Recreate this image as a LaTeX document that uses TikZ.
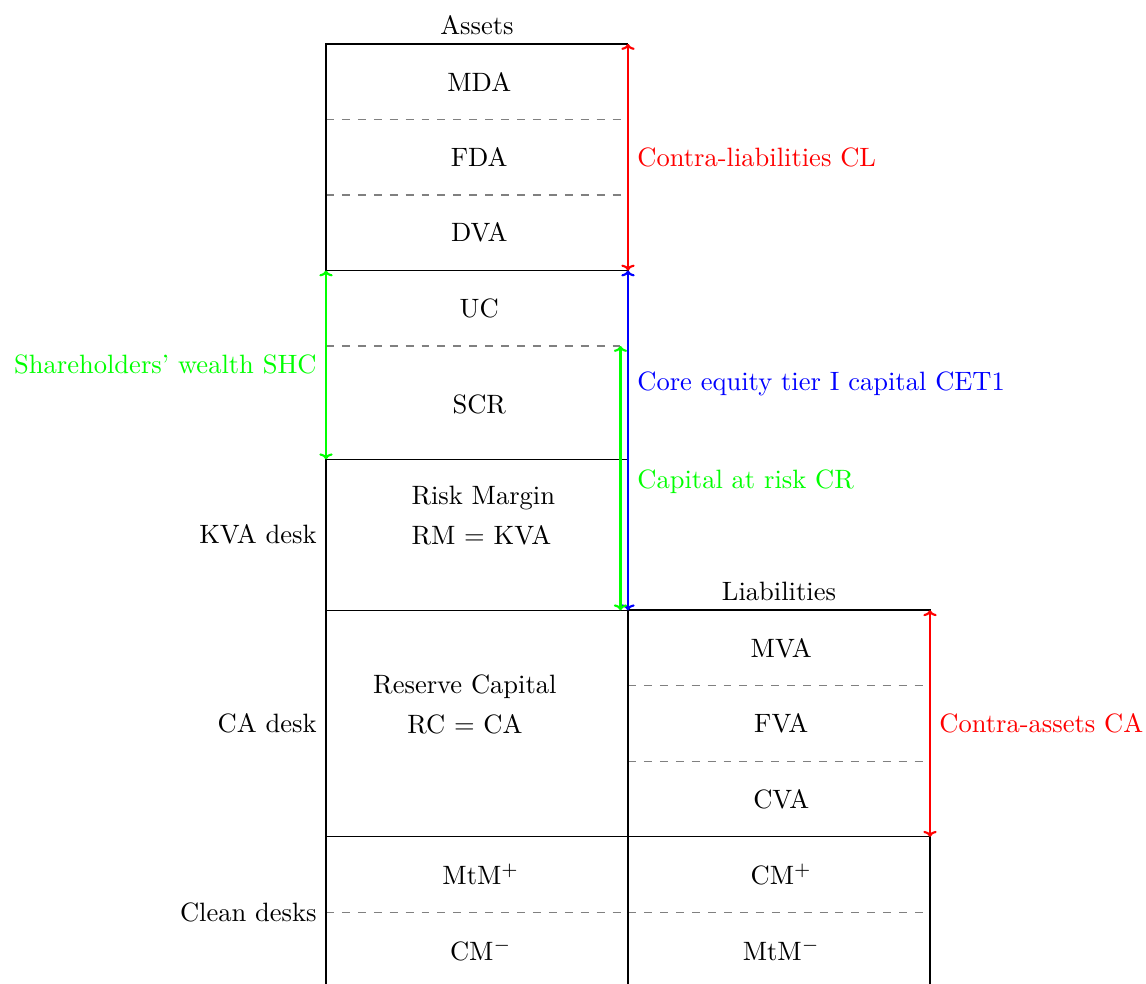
\documentclass[tikz,border=0pt]{standalone}
\usetikzlibrary{arrows.meta}
\begin{document}
\begin{tikzpicture}[
  sep/.style={gray, dashed, line width=0.4pt},
  rule/.style={black, line width=0.4pt},
  frame/.style={black, thick},
  dim/.style={thick, {To[length=2.2pt,width=5pt]}-{To[length=2.2pt,width=5pt]}},
  lbl/.style={inner sep=3.33pt}
]
\useasboundingbox (-4.318,0.583) rectangle (10.861,-12.450);
% coordinates
\coordinate (a0) at (0,0);
\coordinate (a1) at (4,0);
\coordinate (l3) at (0,-3);
\coordinate (r3) at (4,-3);
\coordinate (l55) at (0,-5.5);
\coordinate (g4) at (3.9,-4);
\coordinate (g75) at (3.9,-7.5);
\coordinate (r75) at (4,-7.5);
\coordinate (rr75) at (8,-7.5);
\coordinate (rr105) at (8,-10.5);
\coordinate (bl) at (0,-12.45);
\coordinate (bm) at (4,-12.45);
\coordinate (br) at (8,-12.45);
% separators
\draw[sep] (0,-1) -- (4,-1);
\draw[sep] (0,-2) -- (4,-2);
\draw[rule] (0,-3) -- (4,-3);
\draw[sep] (0,-4) -- (3.9,-4);
\draw[rule] (0,-5.5) -- (4,-5.5);
\draw[rule] (0,-7.5) -- (4,-7.5);
\draw[rule] (4,0) -- (4,-7.5);
\draw[rule] (0,-10.5) -- (8,-10.5);
\draw[sep] (0,-11.5) -- (8,-11.5);
\draw[sep] (4,-8.5) -- (8,-8.5);
\draw[sep] (4,-9.5) -- (8,-9.5);
% frames
\draw[frame] (bl) -- (a0) -- (a1);
\draw[frame] (bm) -- (r75) -- (rr75) -- (br);
% box texts
\node[lbl, above] (assets) at (2,0) {Assets};
\node (mda) at (2.03,-0.5) {MDA};
\node (fda) at (2.03,-1.5) {FDA};
\node (dva) at (2.03,-2.5) {DVA};
\node (uc) at (2.03,-3.5) {UC};
\node (scr) at (2.03,-4.78) {SCR};
\node[anchor=west, inner sep=0pt] (rm1) at (1.126,-6.01) {Risk Margin};
\node[anchor=west, inner sep=0pt] (rm2) at (1.126,-6.51) {RM = KVA};
\node (rc1) at (1.84,-8.51) {Reserve Capital};
\node (rc2) at (1.84,-9.01) {RC = CA};
\node (mtmp) at (2.05,-11.0) {MtM$^{+}$};
\node (cmm) at (2.05,-12.0) {CM$^{-}$};
\node[lbl, above] (liab) at (6,-7.5) {Liabilities};
\node (mva) at (6.03,-8.0) {MVA};
\node (fva) at (6.03,-9.0) {FVA};
\node (cva) at (6.03,-10.0) {CVA};
\node (cmp) at (6.03,-11.0) {CM$^{+}$};
\node (mtmm) at (6.03,-12.0) {MtM$^{-}$};
% desk labels
\node[lbl, left] (kva) at (0,-6.5) {KVA desk};
\node[lbl, left] (cad) at (0,-9) {CA desk};
\node[lbl, left] (clean) at (0,-11.5) {Clean desks};
% arrows
\draw[dim, red] (a1) -- (r3);
\draw[dim, blue] (r3) -- (r75);
\draw[dim, green] (l3) -- (l55);
\draw[dim, green] (g4) -- (g75);
\draw[dim, red] (rr75) -- (rr105);
% arrow labels
\node[lbl, right, red] (cl) at (4,-1.5) {Contra-liabilities CL};
\node[lbl, left, green] (shc) at (0,-4.25) {Shareholders' wealth SHC};
\node[lbl, right, blue] (cet) at (4,-4.5) {Core equity tier I capital CET1};
\node[lbl, right, green] (cr) at (4,-5.8) {Capital at risk CR};
\node[lbl, right, red] (cac) at (8,-9) {Contra-assets CA};
\end{tikzpicture}
\end{document}
